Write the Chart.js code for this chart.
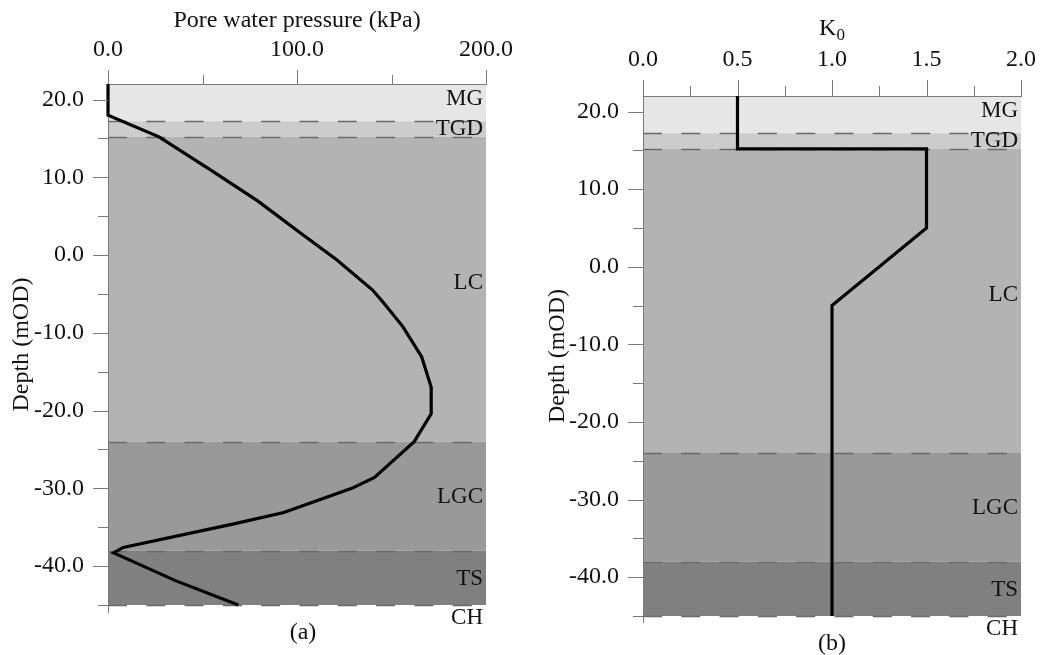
<!DOCTYPE html>
<html><head><meta charset="utf-8">
<script src="https://cdn.jsdelivr.net/npm/chart.js@4.4.0/dist/chart.umd.min.js"></script>
<style>
html,body{margin:0;padding:0;background:#fff;}
#wrap{position:relative;width:1040px;height:655px;overflow:hidden;}
canvas{position:absolute;top:0;}
</style></head><body>
<div id="wrap">
<canvas id="ca" width="520" height="655" style="left:0"></canvas>
<canvas id="cb" width="520" height="655" style="left:520px"></canvas>
</div>
<script>
// ---------------- DATA ----------------
const depthTicks = [20, 10, 0, -10, -20, -30, -40];
const depthMinorTicks = [15, 5, -5, -15, -25, -35, -45];
const pressureTicks = [0, 100, 200];
const pressureMinorTicks = [50, 150];
const k0Ticks = [0, 0.5, 1.0, 1.5, 2.0];
const k0MinorTicks = [0.25, 0.75, 1.25, 1.75];

const layerNames  = ['MG', 'TGD', 'LC', 'LGC', 'TS', 'CH'];
const layerTop    = [22, 17.2, 15.2, -24, -38, -45];
const layerBottom = [17.2, 15.2, -24, -38, -45, -45];
const layerBoundaries = [17.2, 15.2, -24, -38, -45];

const pwpDepth = [22, 18, 15.2, 11, 7, 2.8, -0.6, -4.5, -6.2, -9.2, -13.1, -17, -20.4, -24, -28.6, -30, -33.1, -34.6, -37.6, -38.3, -41.9, -45];
const pwpValue = [0, 0, 27, 54, 79, 102, 121, 140, 146, 156, 166, 171, 171, 162, 141, 129, 93, 66, 8, 3, 36, 69];

const k0Depth = [22, 15.2, 15.2, 5, -5, -45];
const k0Value = [0.5, 0.5, 1.5, 1.5, 1.0, 1.0];

// ---------------- STYLE ----------------
const FONT = 'Liberation Serif';
const TXT = '#111111';
const AXIS = '#7a7a7a';
const bandColors = ['#e6e6e6', '#cccccc', '#b3b3b3', '#999999', '#808080', 'rgba(0,0,0,0)'];
const labelDepth = [20.1, 16.2, -3.6, -31.1, -41.6, -46.7];

function decor(opt) {
  return {
    id: 'decor_' + opt.id,
    beforeDraw(chart) {
      const {ctx, chartArea: a, scales: {y}} = chart;
      ctx.save();
      for (let i = 0; i < layerNames.length; i++) {
        if (layerTop[i] <= layerBottom[i]) continue;
        const y1 = y.getPixelForValue(layerTop[i]);
        const y2 = y.getPixelForValue(layerBottom[i]);
        ctx.fillStyle = bandColors[i];
        ctx.fillRect(a.left, y1, a.right - a.left, y2 - y1);
      }
      ctx.strokeStyle = '#6a6a6a';
      ctx.lineWidth = 1.3;
      ctx.setLineDash([19, 19.3]);
      for (const b of layerBoundaries) {
        const yy = Math.round(y.getPixelForValue(b)) + 0.5;
        ctx.beginPath();
        ctx.moveTo(a.left, yy);
        ctx.lineTo(a.right, yy);
        ctx.stroke();
      }
      ctx.restore();
    },
    afterDraw(chart) {
      const {ctx, chartArea: a, scales: {x, y}} = chart;
      ctx.save();
      ctx.strokeStyle = AXIS;
      ctx.lineWidth = 1;
      const yt = (v, len) => {
        const py = Math.round(y.getPixelForValue(v)) + 0.5;
        ctx.beginPath(); ctx.moveTo(a.left - len, py); ctx.lineTo(a.left, py); ctx.stroke();
      };
      opt.yMajor.forEach(v => yt(v, 15));
      opt.yMinor.forEach(v => yt(v, 10));
      const xt = (v, len) => {
        const px = Math.round(x.getPixelForValue(v)) + 0.5;
        ctx.beginPath(); ctx.moveTo(px, a.top - len); ctx.lineTo(px, a.top); ctx.stroke();
      };
      opt.xMajor.forEach(v => xt(v, opt.xMajorLen));
      opt.xMinor.forEach(v => xt(v, opt.xMinorLen));
      ctx.beginPath();
      ctx.moveTo(Math.round(a.left) + 0.5, a.bottom);
      ctx.lineTo(Math.round(a.left) + 0.5, a.bottom + opt.ext);
      ctx.stroke();
      ctx.fillStyle = TXT;
      ctx.font = '23px "' + FONT + '"';
      ctx.textAlign = 'right';
      ctx.textBaseline = 'middle';
      for (let i = 0; i < layerNames.length; i++) {
        ctx.fillText(layerNames[i], a.right - 3, y.getPixelForValue(labelDepth[i]));
      }
      ctx.textAlign = 'center';
      ctx.font = '24px "' + FONT + '"';
      ctx.fillText(opt.caption, (a.left + a.right) / 2 + opt.capDx, a.bottom + 28);
      if (opt.k0) {
        ctx.textAlign = 'left';
        ctx.textBaseline = 'alphabetic';
        ctx.font = '24px "' + FONT + '"';
        const wK = ctx.measureText('K').width;
        ctx.font = '17px "' + FONT + '"';
        const w0 = ctx.measureText('0').width;
        const sx = (a.left + a.right) / 2 - (wK + w0) / 2;
        ctx.font = '24px "' + FONT + '"';
        ctx.fillText('K', sx, 35);
        ctx.font = '17px "' + FONT + '"';
        ctx.fillText('0', sx + wK, 39.5);
      }
      ctx.restore();
    }
  };
}

function makeChart(id, opt) {
  const font = {family: FONT, size: 24};
  return new Chart(document.getElementById(id), {
    type: 'scatter',
    data: {
      datasets: [{
        data: opt.xs.map((v, i) => ({x: v, y: opt.ys[i]})),
        showLine: true,
        borderColor: '#000000',
        borderWidth: 3.2,
        pointRadius: 0,
        borderJoinStyle: 'miter',
        clip: false
      }]
    },
    options: {
      responsive: false,
      devicePixelRatio: 1,
      animation: false,
      layout: {padding: {left: 0, top: 0, right: opt.padR, bottom: opt.padB}},
      plugins: {legend: {display: false}, tooltip: {enabled: false}},
      scales: {
        x: {
          type: 'linear', position: 'top', min: opt.xMin, max: opt.xMax,
          afterBuildTicks: s => { s.ticks = opt.xMajor.map(v => ({value: v})); },
          afterFit: s => { s.height = opt.top; s.paddingLeft = 0; s.paddingRight = 0; s.paddingTop = 0; s.paddingBottom = 0; },
          ticks: {font, color: TXT, padding: opt.xPad, autoSkip: false, maxRotation: 0,
                  callback: v => Number(v).toFixed(1)},
          grid: {drawOnChartArea: false, drawTicks: false},
          border: {display: true, color: AXIS, width: 1},
          title: {display: !!opt.xTitle, text: opt.xTitle || '', font, color: TXT, padding: {top: 6, bottom: 0}}
        },
        y: {
          type: 'linear', position: 'left', min: -45, max: 22,
          afterBuildTicks: s => { s.ticks = depthTicks.map(v => ({value: v})); },
          afterFit: s => { s.width = opt.left; s.paddingLeft = 0; s.paddingRight = 0; s.paddingTop = 0; s.paddingBottom = 0; },
          ticks: {font, color: TXT, padding: 24, autoSkip: false,
                  callback: v => Number(v).toFixed(1)},
          grid: {drawOnChartArea: false, drawTicks: false},
          border: {display: true, color: AXIS, width: 1},
          title: {display: true, text: 'Depth (mOD)', font, color: TXT, padding: {top: opt.yTitlePad, bottom: 0}}
        }
      }
    },
    plugins: [decor(opt)]
  });
}

makeChart('ca', {
  id: 'a', xs: pwpValue, ys: pwpDepth, xMin: 0, xMax: 200,
  xMajor: pressureTicks, xMinor: pressureMinorTicks, xMajorLen: 14, xMinorLen: 9,
  yMajor: depthTicks, yMinor: depthMinorTicks,
  left: 108, top: 84, padR: 34, padB: 50, xPad: 20, yTitlePad: 7,
  xTitle: 'Pore water pressure (kPa)', caption: '(a)', capDx: 6, ext: 8, k0: false
});
makeChart('cb', {
  id: 'b', xs: k0Value, ys: k0Depth, xMin: 0, xMax: 2,
  xMajor: k0Ticks, xMinor: k0MinorTicks, xMajorLen: 16, xMinorLen: 10,
  yMajor: depthTicks, yMinor: depthMinorTicks,
  left: 123, top: 96, padR: 19, padB: 39, xPad: 22, yTitlePad: 23,
  xTitle: null, caption: '(b)', capDx: 0, ext: 7, k0: true
});
</script>
</body></html>
